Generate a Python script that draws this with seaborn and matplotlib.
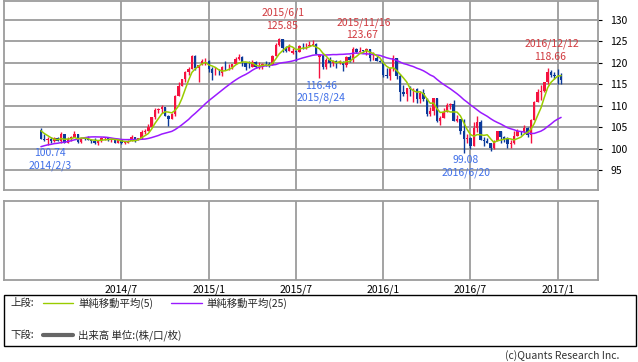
import numpy as np
import pandas as pd
import matplotlib
matplotlib.use("Agg")
import matplotlib.pyplot as plt
from matplotlib.patches import Rectangle
from matplotlib.lines import Line2D
import seaborn as sns

# weekly closes before the first visible candle (only used to warm up the moving averages)
prior_closes = [96.2, 97.5, 98.7, 98.1, 99.7, 99.4, 99.4, 98.3, 97.5, 98.6, 97.7, 97.4,
                98.7, 99.1, 100.2, 101.0, 102.4, 102.9, 103.2, 104.1, 105.2, 104.8, 104.2, 104.3]

start_week = "2014-01-20"

# weekly OHLC, 2014/1/20 .. 2017/1/9
opens = [
    104.3, 102.3, 102.0, 102.3, 101.8, 102.5, 101.8, 103.3, 101.4, 102.2, 102.8, 103.3, 101.6,
    102.4, 102.2, 102.1, 101.8, 101.4, 101.9, 102.5, 102.6, 102.0, 102.1, 101.4, 102.1, 101.3,
    101.4, 101.8, 102.6, 102.0, 102.4, 103.9, 104.1, 105.1, 107.3, 109.0, 109.3, 109.7, 107.6,
    106.9, 108.1, 112.3, 114.6, 116.3, 117.8, 118.6, 121.5, 118.7, 119.5, 120.3,
    120.5, 118.5, 117.5, 117.7, 117.5, 119.1, 118.9, 119.0, 119.6, 120.8, 121.4, 120.0, 119.1,
    118.9, 120.2, 118.9, 118.95, 119.8, 119.7, 119.4, 121.5, 124.1, 125.6, 123.4, 122.7, 122.2,
    122.8, 122.6, 124.0, 123.8, 124.0, 124.2, 124.3, 121.4, 121.7, 119.0, 120.6, 120.0, 120.5,
    119.9, 120.2, 119.4, 121.4, 120.6, 123.2, 122.6, 122.8, 122.75, 123.1, 121.0, 121.2, 120.3,
    120.2, 117.2, 117.0, 118.8, 121.1, 116.8, 113.1, 112.6, 114.0, 113.8, 113.9, 111.5, 113.0,
    111.6, 108.0, 108.7, 111.8, 106.4, 107.1, 108.6, 110.2, 110.3, 106.5, 106.9, 104.2, 102.2,
    102.5, 100.6, 104.9, 106.1, 102.0, 101.8, 101.3, 100.2, 101.8, 104.0, 102.6, 102.3, 101.0,
    101.3, 102.9, 104.2, 103.8, 104.7, 103.1, 106.6, 110.9, 113.2, 113.5, 115.4, 117.9, 117.2,
    117.0, 116.9,
]
highs = [
    104.8, 103.4, 102.7, 102.8, 102.7, 102.6, 103.8, 103.4, 102.7, 103.0, 104.1, 103.4, 102.5,
    102.8, 103.0, 102.2, 102.4, 102.0, 102.6, 102.8, 102.8, 102.3, 102.2, 102.3, 102.1, 101.8,
    102.0, 103.1, 102.8, 102.5, 104.3, 104.5, 105.7, 107.4, 109.5, 109.5, 110.1, 109.7, 107.8,
    108.4, 112.5, 115.6, 116.3, 118.0, 118.9, 121.8, 121.7, 119.5, 120.8, 121.0,
    120.6, 119.0, 118.9, 118.6, 119.2, 120.5, 119.7, 119.8, 121.3, 122.0, 121.6, 120.1, 120.4,
    120.6, 120.4, 120.1, 120.0, 120.5, 120.1, 121.8, 124.5, 125.85, 125.6, 124.0, 124.4, 123.5,
    123.0, 124.2, 124.5, 124.6, 125.0, 125.3, 124.5, 122.0, 121.7, 121.2, 121.3, 120.7, 120.6,
    120.6, 120.3, 121.5, 121.7, 123.6, 123.4, 123.67, 123.0, 123.5, 123.2, 122.6, 121.6, 120.6,
    120.4, 118.8, 118.9, 121.7, 121.2, 117.3, 114.9, 114.0, 114.6, 114.2, 114.1, 113.3, 113.8,
    111.9, 109.8, 111.9, 111.9, 107.5, 109.4, 110.6, 110.6, 111.4, 107.9, 106.9, 106.8, 103.3,
    102.7, 106.3, 107.5, 106.7, 102.8, 102.5, 101.4, 102.0, 104.2, 104.0, 102.9, 102.8, 101.9,
    104.2, 104.6, 104.2, 105.5, 105.1, 106.9, 111.0, 113.9, 114.8, 115.4, 118.66, 118.3, 117.8,
    118.6, 117.5,
]
lows = [
    102.2, 101.8, 100.74, 101.4, 101.6, 101.7, 101.2, 101.2, 101.2, 101.7, 102.8, 101.3, 101.3,
    102.0, 102.0, 101.4, 101.1, 100.8, 101.6, 102.0, 101.8, 101.6, 101.4, 101.3, 101.1, 101.1,
    101.2, 101.8, 101.5, 101.9, 102.3, 103.5, 104.1, 105.1, 106.9, 108.2, 108.3, 107.5, 105.2,
    106.8, 107.6, 112.3, 114.5, 115.5, 117.2, 118.6, 118.3, 115.6, 119.5, 119.5,
    117.9, 115.9, 117.2, 117.2, 116.9, 118.4, 118.3, 118.6, 119.6, 120.6, 119.3, 118.3, 118.7,
    118.9, 118.7, 118.5, 118.5, 119.2, 118.9, 119.4, 121.5, 123.8, 122.5, 122.5, 122.7, 122.0,
    120.4, 122.5, 123.2, 123.3, 123.9, 123.8, 122.0, 116.46, 118.6, 118.6, 118.9, 119.2, 118.7,
    119.6, 118.1, 119.1, 120.1, 120.2, 122.2, 122.5, 122.3, 121.9, 120.4, 120.6, 120.3, 120.1,
    116.7, 116.5, 115.9, 118.0, 116.1, 111.0, 112.2, 111.0, 112.2, 110.9, 110.7, 110.7, 111.1,
    107.7, 107.6, 107.8, 106.3, 105.5, 107.1, 108.6, 109.2, 106.5, 106.3, 103.5, 99.08, 101.4,
    99.98, 100.6, 103.9, 101.9, 100.7, 101.2, 99.5, 99.8, 101.8, 101.2, 101.6, 100.1, 100.1,
    101.1, 102.9, 103.2, 103.6, 102.6, 101.2, 106.6, 110.8, 111.4, 113.2, 115.1, 116.6, 116.1,
    115.1, 115.1,
]
closes = [
    102.3, 102.0, 102.3, 101.8, 102.5, 101.8, 103.3, 101.4, 102.2, 102.8, 103.3, 101.6, 102.4,
    102.2, 102.1, 101.8, 101.4, 101.9, 102.5, 102.6, 102.0, 102.1, 101.4, 102.1, 101.3, 101.4,
    101.8, 102.6, 102.0, 102.4, 103.9, 104.1, 105.1, 107.3, 109.0, 109.3, 109.7, 107.6, 106.9,
    108.1, 112.3, 114.6, 116.3, 117.8, 118.6, 121.5, 118.7, 119.5, 120.3, 120.5,
    118.5, 117.5, 117.7, 117.5, 119.1, 118.9, 119.0, 119.6, 120.8, 121.4, 120.0, 119.1, 118.9,
    120.2, 118.9, 118.95, 119.8, 119.7, 119.4, 121.5, 124.1, 125.6, 123.4, 122.7, 123.8, 122.8,
    122.6, 124.0, 123.8, 124.0, 124.2, 124.3, 122.0, 121.7, 119.0, 120.6, 120.0, 120.5, 119.9,
    120.2, 119.4, 121.4, 120.6, 123.2, 122.6, 122.8, 122.75, 123.1, 121.0, 121.2, 120.3, 120.2,
    117.2, 117.0, 118.8, 121.1, 116.8, 113.1, 112.6, 114.0, 113.8, 113.9, 111.5, 113.0, 111.6,
    108.0, 108.7, 111.8, 106.4, 107.1, 108.6, 110.2, 110.3, 106.5, 106.9, 104.2, 102.2, 102.5,
    100.6, 104.9, 106.1, 102.0, 101.8, 101.3, 100.2, 101.8, 104.0, 102.6, 102.3, 101.0, 101.3,
    102.9, 104.2, 103.8, 104.7, 103.1, 106.6, 110.9, 113.2, 113.5, 115.4, 117.9, 117.2, 117.0,
    116.9, 116.0,
]

peak_weeks = ["2015-06-01", "2015-11-16", "2016-12-12"]
trough_weeks = ["2014-02-03", "2015-08-24", "2016-06-20"]
grid_months = [1, 7]
price_ticks = [95, 100, 105, 110, 115, 120, 125, 130]

UP = "#f5123f"
DOWN = "#0b3a9a"
MA5_C = "#99cc00"
MA25_C = "#9a1aff"
RED_TXT = "#d0393e"
BLUE_TXT = "#3f6fe8"
GRID = "#9c9c9c"

df = pd.DataFrame({"open": opens, "high": highs, "low": lows, "close": closes})
df["date"] = pd.date_range(start_week, periods=len(df), freq="W-MON")
df["x"] = np.arange(len(df))

all_close = pd.Series(prior_closes + closes)
df["ma5"] = all_close.rolling(5).mean().iloc[len(prior_closes):].values
df["ma25"] = all_close.rolling(25).mean().iloc[len(prior_closes):].values

month = df["date"].dt.month
first_week = month.ne(month.shift())
grid_idx = df.loc[first_week & month.isin(grid_months) & (df["x"] > 0)]
grid_x = grid_idx["x"].tolist()
grid_lbl = [f"{d.year}/{d.month}" for d in grid_idx["date"]]

sns.set_style("white")
plt.rcParams["font.family"] = ["Noto Sans CJK JP", "DejaVu Sans"]

W, H = 638, 362
fig = plt.figure(figsize=(W / 100, H / 100), dpi=100)
ax = fig.add_axes([4 / W, 1 - 190 / H, 594 / W, 189.5 / H])
ax2 = fig.add_axes([4 / W, 1 - 280 / H, 594 / W, 79 / H])

for a in (ax, ax2):
    a.set_xlim(-11, 166)
    a.set_xticks(grid_x)
    a.grid(axis="x", color=GRID, lw=1.3)
    a.set_axisbelow(True)
    for s in a.spines.values():
        s.set_color(GRID)
        s.set_linewidth(1.3)

# candles
up = df["close"] >= df["open"]
cols = np.where(up, UP, DOWN)
ax.vlines(df["x"], df["low"], df["high"], colors=cols, lw=1, zorder=2)
body = (df["close"] - df["open"]).abs().clip(lower=0.12)
ax.bar(df["x"], body, bottom=df[["open", "close"]].min(axis=1), width=0.72,
       color=cols, linewidth=0, zorder=3)

sns.lineplot(data=df, x="x", y="ma25", color=MA25_C, lw=1.1, ax=ax, zorder=4)
sns.lineplot(data=df, x="x", y="ma5", color=MA5_C, lw=1.1, ax=ax, zorder=5)

ax.set_ylim(90.35, 134.5)
ax.set_yticks(price_ticks)
ax.grid(axis="y", color=GRID, lw=1.3)
ax.yaxis.tick_right()
ax.tick_params(axis="y", length=3, width=0.8, pad=6, labelsize=7.5, colors="black")
ax.tick_params(axis="x", length=0, labelbottom=False)
ax.set_xlabel("")
ax.set_ylabel("")

for wk in peak_weeks:
    r = df.loc[df["date"] == wk].iloc[0]
    ax.annotate(f"{r['high']:.2f}", (r["x"], r["high"]), xytext=(2, 8.3),
                textcoords="offset points", ha="center", va="center", fontsize=7.5, color=RED_TXT)
    ax.annotate(f"{r['date'].year}/{r['date'].month}/{r['date'].day}", (r["x"], r["high"]),
                xytext=(3, 17.6), textcoords="offset points", ha="center", va="center",
                fontsize=7.5, color=RED_TXT)

for wk in trough_weeks:
    r = df.loc[df["date"] == wk].iloc[0]
    ax.annotate(f"{r['low']:.2f}", (r["x"], r["low"]), xytext=(1.5, -5.6),
                textcoords="offset points", ha="center", va="center", fontsize=7.5, color=BLUE_TXT)
    ax.annotate(f"{r['date'].year}/{r['date'].month}/{r['date'].day}", (r["x"], r["low"]),
                xytext=(1.5, -14.6), textcoords="offset points", ha="center", va="center",
                fontsize=7.5, color=BLUE_TXT)

# lower panel (volume, empty for FX)
ax2.set_yticks([])
ax2.set_xticklabels(grid_lbl)
ax2.tick_params(axis="x", length=0, pad=3, labelsize=7.5, colors="black")

# legend box
fig.add_artist(Rectangle((4 / W, 1 - 346 / H), 632 / W, 51 / H, transform=fig.transFigure,
                         fill=False, ec="black", lw=1))
fs = 7.5
y1 = 1 - 303 / H
y2 = 1 - 335 / H
fig.text(10 / W, y1, "上段:", fontsize=fs, va="center")
fig.add_artist(Line2D([43 / W, 73 / W], [y1, y1], color=MA5_C, lw=1, transform=fig.transFigure))
fig.text(78 / W, y1, "単純移動平均(5)", fontsize=fs, va="center")
fig.add_artist(Line2D([171 / W, 202 / W], [y1, y1], color=MA25_C, lw=1, transform=fig.transFigure))
fig.text(206 / W, y1, "単純移動平均(25)", fontsize=fs, va="center")
fig.text(10 / W, y2, "下段:", fontsize=fs, va="center")
fig.add_artist(Line2D([43 / W, 73 / W], [y2, y2], color="#666666", lw=3, transform=fig.transFigure))
fig.text(78 / W, y2, "出来高 単位:(株/口/枚)", fontsize=fs, va="center")
fig.text(619 / W, 1 - 356 / H, "(c)Quants Research Inc.", fontsize=fs, ha="right", va="center",
         color="#333333")

fig.savefig("out.png", dpi=100)
